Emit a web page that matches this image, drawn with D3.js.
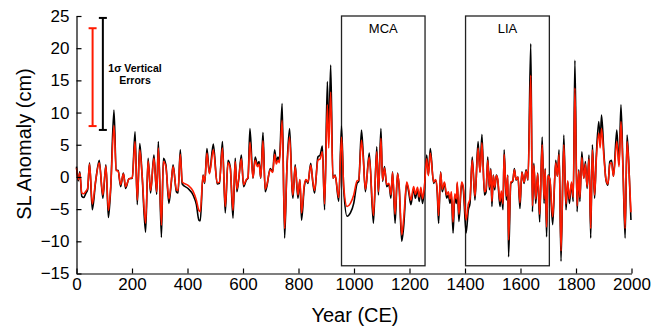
<!DOCTYPE html>
<html>
<head>
<meta charset="utf-8">
<script src="https://cdn.jsdelivr.net/npm/d3@7"></script>
<style>
  body { margin: 0; background: #fff; }
  svg { font-family: "Liberation Sans", Arial, Helvetica, sans-serif; }
  .axis path, .axis line { stroke: #000; stroke-width: 1.2; }
  .axis text { font-size: 17px; fill: #000; }
</style>
</head>
<body>
<div id="chart"></div>
<script>
// years of the reconstruction and the two sea-level anomaly series (cm)
const years = [
  0, 6, 12, 19, 26, 34, 40, 47, 57, 69, 82, 95, 106, 115, 123, 135, 143, 150, 159, 169,
  177, 189, 201, 211, 219, 228, 236, 249, 258, 267, 279, 289, 295, 306, 313, 322, 333, 341, 348, 360,
  366, 374, 381, 402, 420, 432, 441, 446, 456, 462, 470, 479, 493, 507, 515, 526, 536, 546, 554, 564,
  572, 578, 585, 594, 602, 612, 618, 625, 636, 644, 652, 658, 664, 672, 680, 686, 698, 707, 714, 720,
  726, 731, 741, 750, 758, 768, 777, 780, 788, 798, 805, 811, 821, 827, 834, 844, 852, 858, 870, 878,
  886, 894, 904, 909, 916, 924, 932, 945, 955, 963, 975, 987, 999, 1011, 1017, 1027, 1033, 1041, 1055, 1070,
  1082, 1088, 1097, 1103, 1110, 1118, 1126, 1133, 1139, 1148, 1157, 1163, 1172, 1179, 1190, 1197, 1205, 1215, 1221, 1229,
  1235, 1241, 1247, 1253, 1262, 1268, 1275, 1287, 1294, 1300, 1305, 1312, 1318, 1326, 1334, 1340, 1346, 1351, 1357, 1363,
  1369, 1372, 1378, 1388, 1394, 1404, 1412, 1418, 1426, 1436, 1447, 1454, 1461, 1470, 1476, 1482, 1488, 1493, 1497, 1502,
  1507, 1513, 1518, 1526, 1531, 1537, 1541, 1549, 1554, 1557, 1565, 1572, 1578, 1584, 1591, 1598, 1605, 1613, 1620, 1627,
  1637, 1643, 1648, 1655, 1662, 1669, 1678, 1685, 1689, 1694, 1699, 1706, 1716, 1727, 1733, 1739, 1746, 1756, 1764, 1770,
  1776, 1784, 1790, 1796, 1804, 1810, 1814, 1821, 1828, 1834, 1840, 1847, 1853, 1859, 1867, 1873, 1882, 1887, 1892, 1901,
  1908, 1915, 1922, 1928, 1935, 1947, 1955, 1962, 1969, 1977, 1984, 1991, 1998
];
const slBlack = [
  1.6, -0.6, 0.8, -3.0, -3.2, -2.5, -2.0, 2.2, -5.1, -0.7, 2.6, -3.3, 1.9, -6.3, -2.0, 10.4, 1.1, 1.0, -1.5, 0.6,
  -1.8, -0.3, -0.2, 7.0, -4.3, 5.2, 0.6, -8.6, 2.9, -2.5, 3.4, -2.7, 5.5, -9.4, 2.9, 1.9, -4.1, -1.2, 1.9, -2.3,
  -2.5, 4.2, -1.1, -1.8, -2.8, -4.3, -6.7, -6.8, 0.3, -1.0, 4.4, 0.6, 5.1, -1.1, -1.0, 5.5, -5.6, 2.6, 1.6, -6.4,
  2.9, -2.3, -0.2, 3.4, -1.5, -0.5, -0.2, 7.5, -0.2, 3.1, 1.9, 2.4, -0.2, 6.9, -2.3, -1.5, 1.3, 0.8, 4.2, 2.4,
  3.1, 2.6, 11.4, -9.5, 1.1, 7.5, -2.0, -3.3, 1.9, -3.3, -0.5, -6.7, -1.5, -0.5, -1.0, 2.1, -1.0, -2.5, 3.1, 3.4,
  4.8, -5.1, 14.8, 6.2, 17.4, -0.2, 0.3, -3.8, 7.9, -2.0, -6.1, -5.6, -4.1, -1.0, -0.7, 7.3, 3.7, -2.3, 3.7, -7.2,
  4.7, -2.8, 7.5, -0.7, 1.6, -1.5, -1.2, -3.3, 0.8, -7.2, 0.6, -1.8, -10.0, -7.7, -1.0, -2.3, -4.3, -1.8, -3.3, -2.0,
  -3.8, -2.0, -4.1, -2.3, 3.4, 0.3, 4.4, -1.0, -0.5, -2.5, -7.2, 0.8, -2.3, -1.0, -3.3, -2.8, -4.1, -2.8, -8.7, -3.1,
  -4.1, -1.0, -6.9, -1.0, -2.0, -8.7, -5.1, -4.1, 3.1, -3.6, 5.5, 0.8, 6.6, -2.8, -2.3, 3.1, -2.0, 1.3, -4.6, 0.3,
  -2.0, 0.3, -0.5, -4.6, -2.6, -5.1, 4.2, -3.6, 0.3, -12.4, -1.0, -0.7, 1.3, -0.5, 0.0, -4.9, 0.8, -1.0, 1.1, -0.5,
  20.7, -5.4, 2.1, -4.1, 0.6, -7.0, 6.2, -4.1, 1.3, -9.3, 0.3, -0.5, -7.4, 2.6, 0.1, 4.2, -13.1, 6.5, -5.1, -0.7,
  -4.1, -1.0, -3.8, 18.1, -5.4, 1.1, -3.8, 3.9, -0.2, 2.4, -1.8, 3.4, -9.5, 5.0, -3.3, 3.1, 8.6, 5.5, 9.6, 3.4,
  -0.5, -1.3, 2.4, 2.6, 0.1, 7.3, 1.9, 11.2, 1.9, -9.5, 6.5, 1.3, -6.7
];
const slRed = [
  1.4, -0.4, 0.6, -2.5, -2.6, -2.2, -1.8, 2.0, -4.2, -0.6, 2.2, -2.8, 1.7, -5.2, -1.8, 8.0, 1.0, 0.9, -1.2, 0.5,
  -1.5, -0.3, -0.1, 5.5, -3.6, 4.2, 0.5, -7.2, 2.5, -2.1, 2.9, -2.3, 4.5, -7.5, 2.4, 1.6, -3.4, -1.0, 1.6, -2.0,
  -2.1, 3.5, -0.8, -1.3, -2.2, -3.6, -5.2, -5.4, 0.2, -0.8, 3.7, 0.5, 4.2, -0.9, -0.8, 4.5, -4.6, 2.2, 1.4, -5.2,
  2.4, -1.9, -0.1, 2.8, -1.2, -0.4, -0.1, 5.4, -0.1, 2.6, 1.6, 2.0, -0.1, 5.6, -1.9, -1.2, 1.1, 0.7, 3.5, 2.0,
  2.6, 2.2, 8.8, -8.0, 0.9, 6.2, -1.7, -2.8, 1.6, -2.8, -0.4, -5.6, -1.2, -0.4, -0.8, 1.8, -0.8, -2.1, 2.6, 2.8,
  3.9, -4.2, 11.2, 4.5, 13.2, -0.2, 0.2, -3.2, 6.2, -1.5, -4.6, -4.1, -2.8, -0.6, -0.5, 5.7, 3.1, -1.9, 3.1, -6.0,
  3.9, -2.3, 6.0, -0.5, 1.4, -1.2, -1.0, -2.8, 0.7, -5.8, 0.5, -1.5, -9.0, -6.5, -0.8, -1.9, -3.6, -1.5, -2.7, -1.6,
  -3.1, -1.6, -3.4, -1.9, 2.8, 0.2, 3.7, -0.8, -0.4, -2.1, -6.0, 0.7, -1.9, -0.8, -2.8, -2.3, -3.4, -2.3, -7.0, -2.6,
  -3.4, -0.8, -5.8, -0.8, -1.6, -6.7, -4.2, -3.4, 2.6, -3.0, 4.5, 0.7, 5.3, -2.3, -1.9, 2.6, -1.6, 1.1, -3.8, 0.2,
  -1.6, 0.2, -0.4, -3.8, -2.2, -4.2, 3.5, -3.0, 0.2, -9.8, -0.8, -0.6, 1.1, -0.4, 0.0, -4.0, 0.7, -0.8, 0.9, -0.4,
  15.8, -4.5, 1.8, -3.4, 0.5, -5.8, 5.0, -3.4, 1.1, -7.8, 0.2, -0.4, -6.2, 2.2, 0.1, 3.5, -11.5, 5.0, -4.2, -0.6,
  -3.4, -0.8, -3.2, 13.8, -4.5, 0.9, -3.2, 3.0, -0.2, 2.0, -1.5, 2.8, -8.0, 4.2, -2.8, 2.6, 6.8, 4.5, 7.5, 2.8,
  -0.4, -1.1, 2.0, 2.2, 0.1, 5.5, 1.6, 8.6, 1.6, -8.0, 5.5, 1.1, -5.5
];

const xTicks = [0, 200, 400, 600, 800, 1000, 1200, 1400, 1600, 1800, 2000];
const yTicks = [-15, -10, -5, 0, 5, 10, 15, 20, 25];

// climate periods (start, end year) and their labels
const periods = ['MCA', 'LIA'];
const periodStart = [955, 1402];
const periodEnd = [1256, 1704];
const periodTop = 25;
const periodBottom = -13.8;

// 1-sigma vertical error bars: [year, low, high]
const errorColours = ['#ff1a00', '#000'];
const errorYear = [58, 95];
const errorLow = [7.9, 7.3];
const errorHigh = [23.1, 24.7];

const width = 652;
const height = 330;

const svg = d3.select('#chart').append('svg')
  .attr('width', width)
  .attr('height', height);

const xScale = d3.scaleLinear().domain([0, 2000]).range([76.5, 631.5]);
const yScale = d3.scaleLinear().domain([-15, 25]).range([273.5, 16]);

const series = [
  { name: 'black', colour: '#000', values: years.map((y, i) => ({ year: y, value: slBlack[i] })) },
  { name: 'red', colour: '#ff1a00', values: years.map((y, i) => ({ year: y, value: slRed[i] })) },
];

const line = d3.line()
  .curve(d3.curveMonotoneX)
  .x(d => xScale(d.year))
  .y(d => yScale(d.value));

// period boxes
periods.forEach((p, i) => {
  svg.append('rect')
    .attr('x', xScale(periodStart[i]))
    .attr('y', yScale(periodTop))
    .attr('width', xScale(periodEnd[i]) - xScale(periodStart[i]))
    .attr('height', yScale(periodBottom) - yScale(periodTop))
    .attr('fill', 'none')
    .attr('stroke', '#222')
    .attr('stroke-width', 1.3);
  svg.append('text')
    .attr('x', (xScale(periodStart[i]) + xScale(periodEnd[i])) / 2)
    .attr('y', yScale(periodTop) + 17)
    .attr('text-anchor', 'middle')
    .style('font-size', '13px')
    .text(p);
});

svg.selectAll('.sl-line')
  .data(series)
  .enter()
  .append('path')
  .attr('class', 'sl-line')
  .attr('d', d => line(d.values))
  .attr('fill', 'none')
  .attr('stroke', d => d.colour)
  .attr('stroke-width', 1.6)
  .attr('stroke-linejoin', 'round');

// error bars
errorYear.forEach((yr, i) => {
  const x = xScale(yr);
  const g = svg.append('g').attr('stroke', errorColours[i]).attr('stroke-width', 2);
  g.append('line').attr('x1', x).attr('x2', x).attr('y1', yScale(errorLow[i])).attr('y2', yScale(errorHigh[i]));
  g.append('line').attr('x1', x - 4).attr('x2', x + 4).attr('y1', yScale(errorLow[i])).attr('y2', yScale(errorLow[i]));
  g.append('line').attr('x1', x - 4).attr('x2', x + 4).attr('y1', yScale(errorHigh[i])).attr('y2', yScale(errorHigh[i]));
});

const errText = svg.append('text')
  .attr('text-anchor', 'middle')
  .style('font-size', '10.5px')
  .style('font-weight', 'bold');
errText.append('tspan').attr('x', 135).attr('y', 71.5).text('1σ Vertical');
errText.append('tspan').attr('x', 135).attr('y', 83.5).text('Errors');

// axes, ticks pointing inward
svg.append('g')
  .attr('class', 'axis')
  .attr('transform', `translate(0,${yScale(-15)})`)
  .call(d3.axisBottom(xScale).tickValues(xTicks).tickFormat(d3.format('d'))
    .tickSizeInner(-5).tickSizeOuter(0).tickPadding(4));

svg.append('g')
  .attr('class', 'axis')
  .attr('transform', `translate(${xScale(0)},0)`)
  .call(d3.axisLeft(yScale).tickValues(yTicks).tickFormat(d3.format('d'))
    .tickSizeInner(-5).tickSizeOuter(0).tickPadding(7));

svg.append('text')
  .attr('x', 355)
  .attr('y', 322)
  .attr('text-anchor', 'middle')
  .style('font-size', '20px')
  .text('Year (CE)');

svg.append('text')
  .attr('transform', 'translate(31,144) rotate(-90)')
  .attr('text-anchor', 'middle')
  .style('font-size', '20px')
  .text('SL Anomaly (cm)');
</script>
</body>
</html>
